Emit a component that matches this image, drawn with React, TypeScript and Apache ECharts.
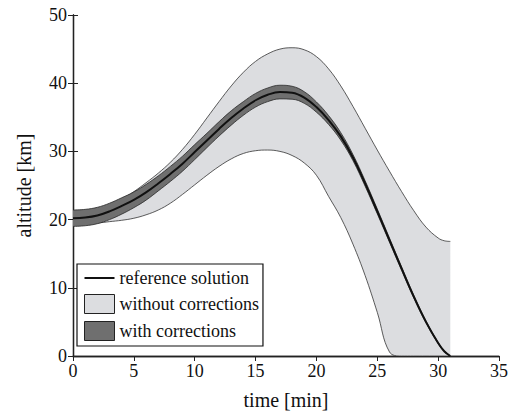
import React, { useEffect, useRef } from "react";
import * as echarts from "echarts";

// time [min]
const timeMin = [0, 1, 2, 3, 4, 5, 6, 7, 8, 9, 10, 11, 12, 13, 14, 15, 16, 17, 18, 19, 20, 21, 22, 23, 24, 25, 26, 27, 28, 29, 30, 30.5, 31];

// altitude [km]
const referenceSolution = [20.2, 20.3, 20.6, 21.2, 22.0, 22.9, 24.0, 25.3, 26.7, 28.2, 29.9, 31.6, 33.3, 34.9, 36.3, 37.5, 38.3, 38.7, 38.6, 37.9, 36.5, 34.6, 32.2, 29.1, 25.3, 21.2, 17.0, 12.8, 8.7, 5.0, 1.9, 0.7, 0];

const withoutCorrUpper = [20.8, 21.0, 21.4, 22.1, 23.0, 24.1, 25.4, 26.8, 28.4, 30.3, 32.5, 34.9, 37.3, 39.6, 41.6, 43.2, 44.3, 45.0, 45.2, 44.9, 43.9, 42.1, 39.6, 36.6, 33.4, 30.2, 27.1, 24.1, 21.3, 18.9, 17.3, 16.9, 16.8];
const withoutCorrLower = [19.3, 19.4, 19.5, 19.7, 19.9, 20.2, 20.7, 21.4, 22.4, 23.7, 25.1, 26.5, 27.8, 28.9, 29.7, 30.1, 30.2, 30.0, 29.4, 28.3, 26.5, 23.4, 20.3, 16.4, 11.8, 6.4, 0.6, 0, 0, 0, 0, 0, 0];

const withCorrUpper = [21.4, 21.5, 21.8, 22.4, 23.2, 24.05, 25.15, 26.4, 27.8, 29.3, 31.0, 32.65, 34.35, 35.95, 37.3, 38.5, 39.3, 39.7, 39.55, 38.75, 37.25, 35.25, 32.75, 29.55, 25.7, 21.55, 17.3, 13.05, 8.9, 5.15, 2.0, 0.75, 0];
const withCorrLower = [19.0, 19.1, 19.4, 20.0, 20.8, 21.75, 22.85, 24.2, 25.6, 27.1, 28.8, 30.55, 32.25, 33.85, 35.3, 36.5, 37.3, 37.7, 37.65, 37.05, 35.75, 33.95, 31.65, 28.65, 24.9, 20.85, 16.7, 12.55, 8.5, 4.85, 1.8, 0.65, 0];

const xAxisRange = { min: 0, max: 35, interval: 5 };
const yAxisRange = { min: 0, max: 50, interval: 10 };

const FONT = "Liberation Serif";
const INK = "#111";

// rows are [altitude, time] so that the altitude column is the stacked one
const rows = (ys: number[]) => timeMin.map((t, i) => [ys[i], t]);
const diffRows = (up: number[], lo: number[]) => timeMin.map((t, i) => [+(up[i] - lo[i]).toFixed(3), t]);
const ENC = { x: 1, y: 0 };
const SMOOTH = 0.4;

export default function App() {
  const ref = useRef<HTMLDivElement>(null);

  useEffect(() => {
    if (!ref.current) return;
    const chart = echarts.init(ref.current, undefined, { renderer: "svg" });

    const axisCommon = {
      type: "value" as const,
      splitLine: { show: false },
      axisLine: { show: true, lineStyle: { color: "#222", width: 1.3 } },
      axisTick: { show: true, inside: true, length: 5, lineStyle: { color: "#222", width: 1 } },
    };

    chart.setOption({
      animation: false,
      backgroundColor: "#fff",
      grid: { left: 73, right: 19, top: 15, bottom: 61, containLabel: false },
      xAxis: [
        {
          ...axisCommon,
          ...xAxisRange,
          position: "bottom",
          name: "time [min]",
          nameLocation: "middle",
          nameGap: 34,
          nameTextStyle: { fontFamily: FONT, fontSize: 20, color: INK },
          axisTick: { show: false },
          axisLabel: { fontFamily: FONT, fontSize: 18, color: INK, margin: 6 },
        },
        {
          ...axisCommon,
          ...xAxisRange,
          position: "top",
          axisLabel: { show: false },
        },
      ],
      yAxis: [
        {
          ...axisCommon,
          ...yAxisRange,
          position: "left",
          name: "altitude [km]",
          nameLocation: "middle",
          nameGap: 39,
          nameTextStyle: { fontFamily: FONT, fontSize: 20, color: INK },
          axisLabel: { fontFamily: FONT, fontSize: 18, color: INK, margin: 6 },
        },
        {
          ...axisCommon,
          ...yAxisRange,
          position: "right",
          axisLabel: { show: false },
        },
      ],
      legend: {
        data: [
          { name: "reference solution", icon: "path://M0,0 L30,0 L30,2 L0,2 Z", itemStyle: { color: "#111", borderWidth: 0 } },
          { name: "without corrections", icon: "rect", itemStyle: { color: "#dcdde0", borderColor: "#222", borderWidth: 1 } },
          { name: "with corrections", icon: "rect", itemStyle: { color: "#6f6f6f", borderColor: "#222", borderWidth: 1 } },
        ],
        orient: "vertical",
        left: 77,
        top: 264,
        itemWidth: 30,
        itemHeight: 19,
        itemGap: 7,
        symbolKeepAspect: true,
        padding: [5, 4, 5, 7],
        borderColor: "#111",
        borderWidth: 1.2,
        backgroundColor: "#fff",
        selectedMode: false,
        textStyle: { fontFamily: FONT, fontSize: 18, color: INK },
        z: 10,
      },
      series: [
        {
          name: "without corrections base",
          type: "line",
          stack: "without",
          stackStrategy: "all",
          encode: ENC,
          data: rows(withoutCorrLower),
          symbol: "none",
          smooth: SMOOTH,
          lineStyle: { color: "#333", width: 0.8 },
          z: 1,
        },
        {
          name: "without corrections",
          type: "line",
          stack: "without",
          stackStrategy: "all",
          encode: ENC,
          data: diffRows(withoutCorrUpper, withoutCorrLower),
          symbol: "none",
          smooth: SMOOTH,
          color: "#dcdde0",
          lineStyle: { color: "#333", width: 0.8 },
          areaStyle: { color: "#dcdde0", opacity: 1 },
          z: 1,
        },
        {
          name: "with corrections base",
          type: "line",
          stack: "with",
          stackStrategy: "all",
          encode: ENC,
          data: rows(withCorrLower),
          symbol: "none",
          smooth: SMOOTH,
          lineStyle: { color: "#2a2a2a", width: 0.8 },
          z: 2,
        },
        {
          name: "with corrections",
          type: "line",
          stack: "with",
          stackStrategy: "all",
          encode: ENC,
          data: diffRows(withCorrUpper, withCorrLower),
          symbol: "none",
          smooth: SMOOTH,
          color: "#6f6f6f",
          lineStyle: { color: "#2a2a2a", width: 0.8 },
          areaStyle: { color: "#6f6f6f", opacity: 1 },
          z: 2,
        },
        {
          name: "reference solution",
          type: "line",
          encode: ENC,
          data: rows(referenceSolution),
          symbol: "none",
          smooth: SMOOTH,
          color: "#111",
          lineStyle: { color: "#111", width: 2 },
          z: 3,
        },
      ],
    });

    return () => chart.dispose();
  }, []);

  return <div ref={ref} style={{ position: "absolute", left: 0, top: 0, width: 518, height: 417 }} />;
}
